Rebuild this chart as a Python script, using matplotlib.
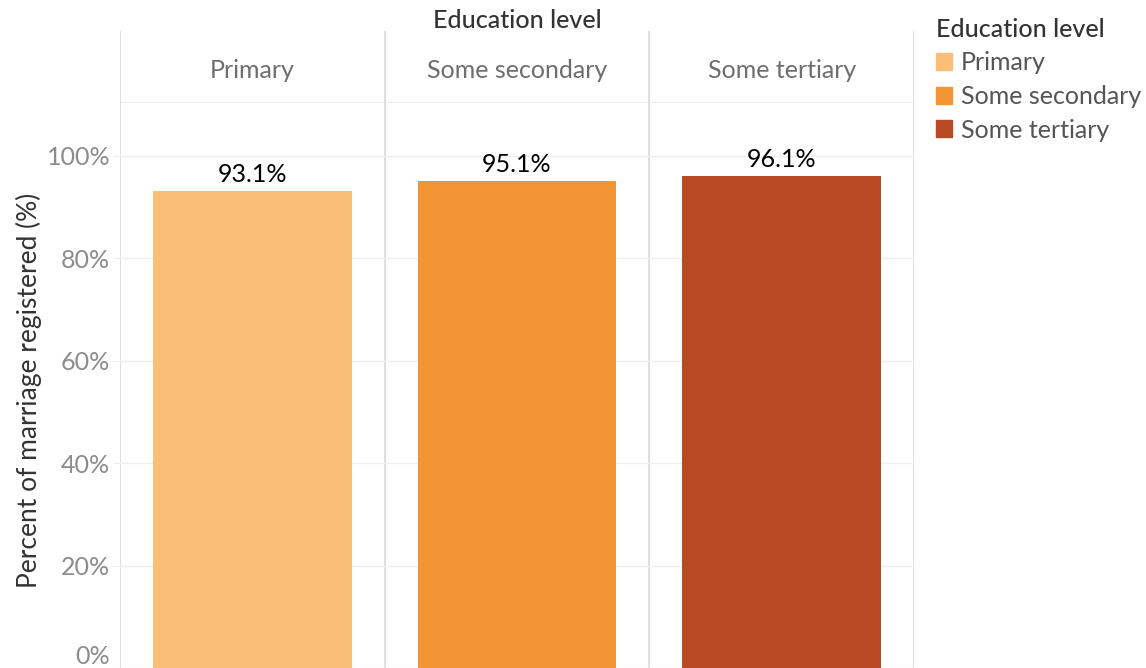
import matplotlib
matplotlib.use("Agg")
import matplotlib.pyplot as plt
from matplotlib.patches import Patch
from matplotlib.transforms import ScaledTranslation

plt.rcParams["font.family"] = ["Lato", "DejaVu Sans"]

levels = ["Primary", "Some secondary", "Some tertiary"]
registered = [93.1, 95.1, 96.1]
colors = ["#FBBE76", "#F39535", "#B84A24"]
yticks = [0, 20, 40, 60, 80, 100]

W, H = 1146, 668
fig = plt.figure(figsize=(W / 100, H / 100), dpi=100)

# plot panel and header band in pixel coordinates
L, R, HEAD_TOP, HEAD_BOT = 120, 914, 31, 103
ax = fig.add_axes([L / W, 0, (R - L) / W, (H - HEAD_BOT) / H])
hx = fig.add_axes([L / W, (H - HEAD_BOT) / H, (R - L) / W, (HEAD_BOT - HEAD_TOP) / H])

x = range(len(levels))
ax.bar(x, registered, width=0.75, color=colors, zorder=3)
for i, v in enumerate(registered):
    ax.text(i, v + 1.0, f"{v:.1f}%", ha="center", va="bottom",
            fontsize=18, color="black", zorder=4)

ax.set_xlim(-0.5, 2.5)
ax.set_ylim(0.6, 110.3)
ax.set_yticks(yticks)
ax.set_yticklabels([f"{t}%" for t in yticks], fontsize=18, color="#8c8c8c")
ax.tick_params(axis="y", length=5, color="#eeeeee", pad=2)
# the 0% label sits just above the bottom edge so it stays visible
zero = ax.get_yticklabels()[0]
zero.set_transform(zero.get_transform() + ScaledTranslation(0, 0.13, fig.dpi_scale_trans))
ax.set_xticks([])
ax.grid(axis="y", color="#efefef", lw=1, zorder=0)
for s in ax.spines.values():
    s.set_visible(False)
for b in [-0.5, 0.5, 1.5, 2.5]:
    ax.axvline(b, color="#d9d9d9", lw=1.2, zorder=1)
ax.set_ylabel("Percent of marriage registered (%)", fontsize=19, color="#333333")
ax.yaxis.label.set_va("center")
ax.yaxis.set_label_coords(-(L - 29) / (R - L), (H - 390) / (H - HEAD_BOT))

# column headers
hx.set_xlim(-0.5, 2.5)
hx.set_ylim(0, 1)
hx.axis("off")
for i, name in enumerate(levels):
    hx.text(i, 0.45, name, ha="center", va="center", fontsize=18, color="#6e6e6e")
for b in [-0.5, 0.5, 1.5, 2.5]:
    hx.axvline(b, color="#d9d9d9", lw=1.2)
hx.axhline(0, color="#e6e6e6", lw=1.2)
fig.text((L + R) / 2 / W, 1 - 20 / H, "Education level", ha="center", va="center",
         fontsize=18, color="#333333", fontweight="medium")

# legend
handles = [Patch(color=c, label=n) for c, n in zip(colors, levels)]
leg = fig.legend(handles=handles, title="Education level", loc="upper left",
                 bbox_to_anchor=(926 / W, 1 - 8 / H), frameon=False, fontsize=18,
                 title_fontproperties={"size": 18, "weight": "medium"},
                 handlelength=0.65, handleheight=0.65,
                 handletextpad=0.35, labelspacing=0.42, borderaxespad=0)
leg._legend_box.align = "left"
for t in leg.get_texts():
    t.set_color("#555555")
leg.get_title().set_color("#333333")

fig.savefig("out.png", dpi=100)
